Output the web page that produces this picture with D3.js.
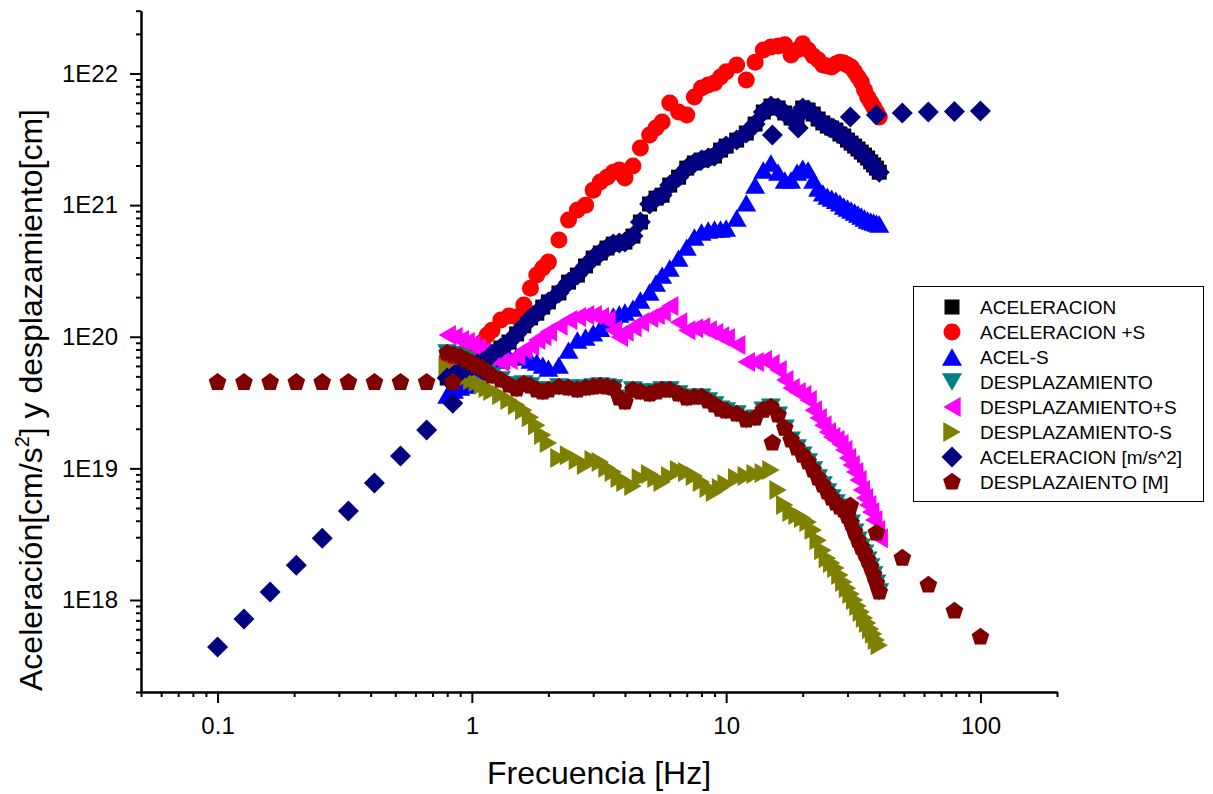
<!DOCTYPE html>
<html>
<head>
    <script src="https://d3js.org/d3.v7.min.js"></script>
    <style>
        body { margin: 0; background: #fff; }
        svg { font-family: "Liberation Sans", Arial, sans-serif; }
        .axis text { font-size: 24px; fill: #000; }
        .axis path, .axis line { stroke: #000; stroke-width: 2px; }
    </style>
</head>
<body>
    <svg width="1213" height="794"></svg>

    <script>
        const width = 1213, height = 794;
        const svg = d3.select("svg");

        // dense spectra (Hz)
        const freqDense = [0.8, 0.85, 0.9, 0.95, 1.0, 1.05, 1.1, 1.15, 1.2, 1.3,
            1.4, 1.5, 1.6, 1.7, 1.8, 1.9, 2.0, 2.2, 2.4, 2.6,
            2.8, 3.0, 3.2, 3.4, 3.6, 3.8, 4.0, 4.3, 4.6, 5.0,
            5.3, 5.6, 6.0, 6.5, 7.0, 7.5, 8.0, 8.5, 9.0, 9.5,
            10, 11, 12, 13, 14, 15, 16, 17, 18, 19,
            20, 21, 22, 23, 24, 25, 26, 27, 28, 29,
            30, 31, 32, 33, 34, 35, 36, 37, 38, 39, 40];

        const aceleracion = [4.86e19, 5.12e19, 5.39e19, 5.78e19, 5.99e19, 6.2e19, 6.42e19, 6.77e19, 7.39e19, 8.21e19,
            9.11e19, 1.05e20, 1.21e20, 1.39e20, 1.51e20, 1.68e20, 1.84e20, 2.15e20, 2.6e20, 2.94e20,
            3.45e20, 3.96e20, 4.33e20, 4.72e20, 5.06e20, 5.15e20, 5.24e20, 5.82e20, 7.44e20, 1.02e21,
            1.13e21, 1.19e21, 1.42e21, 1.63e21, 1.91e21, 2.09e21, 2.2e21, 2.28e21, 2.36e21, 2.62e21,
            2.81e21, 3.12e21, 3.53e21, 4.13e21, 5.1e21, 5.66e21, 5.47e21, 5.01e21, 4.59e21, 4.67e21,
            5.47e21, 5.28e21, 4.92e21, 4.51e21, 4.21e21, 3.99e21, 3.85e21, 3.72e21, 3.47e21, 3.35e21,
            3.12e21, 2.96e21, 2.81e21, 2.67e21, 2.53e21, 2.4e21, 2.28e21, 2.13e21, 2.02e21, 1.91e21, 1.78e21];

        const acelPlusS = [6.9e19, 7.1e19, 7.4e19, 7.6e19, 7.9e19, 8.4e19, 9.1e19, 1.03e20, 1.12e20, 1.34e20,
            1.44e20, 1.41e20, 1.74e20, 2.34e20, 2.94e20, 3.33e20, 3.69e20, 5.43e20, 7.7e20, 9.18e20,
            1.0e21, 1.3e21, 1.5e21, 1.63e21, 1.78e21, 1.85e21, 1.61e21, 1.98e21, 2.72e21, 3.41e21,
            3.85e21, 4.28e21, 5.97e21, 5.1e21, 4.84e21, 6.63e21, 7.76e21, 8.18e21, 8.47e21, 9.41e21,
            1.03e22, 1.16e22, 8.93e21, 1.22e22, 1.51e22, 1.59e22, 1.62e22, 1.65e22, 1.38e22, 1.51e22,
            1.68e22, 1.51e22, 1.36e22, 1.27e22, 1.16e22, 1.14e22, 1.12e22, 1.18e22, 1.22e22, 1.2e22,
            1.16e22, 1.12e22, 1.03e22, 9.41e21, 8.62e21, 7.49e21, 6.63e21, 6.07e21, 5.56e21, 5.1e21, 4.67e21];

        const acelMinusS = [3.61e19, 3.94e19, 4.15e19, 4.3e19, 4.69e19, 4.94e19, 5.39e19, 5.78e19, 6.09e19, 6.65e19,
            7.01e19, 7.13e19, 7.01e19, 6.65e19, 6.42e19, 6.09e19, 5.78e19, 6.09e19, 7.92e19, 9.44e19,
            9.95e19, 1.07e20, 1.16e20, 1.34e20, 1.44e20, 1.49e20, 1.54e20, 1.65e20, 1.9e20, 2.19e20,
            2.56e20, 2.94e20, 3.33e20, 3.96e20, 4.8e20, 5.72e20, 6.25e20, 6.47e20, 6.58e20, 6.58e20,
            6.7e20, 7.98e20, 1.04e21, 1.42e21, 1.85e21, 2.09e21, 1.78e21, 1.55e21, 1.55e21, 1.78e21,
            1.91e21, 1.85e21, 1.55e21, 1.35e21, 1.24e21, 1.17e21, 1.13e21, 1.09e21, 1.04e21, 9.84e20,
            9.5e20, 9.18e20, 8.86e20, 8.56e20, 8.26e20, 7.98e20, 7.7e20, 7.57e20, 7.44e20, 7.31e20, 7.19e20];

        const desplazamiento = [7.52e19, 7.26e19, 7.01e19, 6.65e19, 6.31e19, 5.99e19, 5.78e19, 5.39e19, 5.03e19, 4.69e19,
            4.3e19, 4.01e19, 4.37e19, 4.22e19, 3.94e19, 3.8e19, 3.94e19, 4.15e19, 4.08e19, 3.94e19,
            4.08e19, 4.15e19, 4.22e19, 4.15e19, 4.08e19, 3.42e19, 3.19e19, 3.94e19, 3.8e19, 3.67e19,
            3.8e19, 3.94e19, 3.94e19, 3.67e19, 3.42e19, 3.48e19, 3.48e19, 3.25e19, 3.03e19, 2.82e19,
            2.73e19, 2.59e19, 2.33e19, 2.41e19, 2.77e19, 2.92e19, 2.54e19, 2.02e19, 1.64e19, 1.43e19,
            1.26e19, 1.12e19, 9.71e18, 8.44e18, 7.47e18, 6.61e18, 5.95e18, 5.45e18, 5.08e18, 4.82e18,
            4.34e18, 3.84e18, 3.28e18, 2.85e18, 2.52e18, 2.27e18, 2.01e18, 1.78e18, 1.55e18, 1.34e18, 1.15e18];

        const despPlusS = [1.03e20, 9.95e19, 9.44e19, 9.11e19, 8.65e19, 8.21e19, 7.65e19, 7.13e19, 6.89e19, 6.42e19,
            6.65e19, 7.13e19, 7.92e19, 8.5e19, 9.44e19, 1.01e20, 1.09e20, 1.21e20, 1.34e20, 1.41e20,
            1.46e20, 1.46e20, 1.41e20, 1.34e20, 1.12e20, 9.95e19, 1.09e20, 1.18e20, 1.29e20, 1.39e20,
            1.46e20, 1.54e20, 1.71e20, 1.29e20, 1.12e20, 1.16e20, 1.18e20, 1.12e20, 1.07e20, 1.01e20,
            9.77e19, 8.65e19, 6.42e19, 6.42e19, 6.65e19, 6.2e19, 5.58e19, 4.69e19, 4.08e19, 3.8e19,
            3.61e19, 3.3e19, 2.77e19, 2.41e19, 2.13e19, 1.89e19, 1.73e19, 1.64e19, 1.53e19, 1.38e19,
            1.2e19, 1.06e19, 9.37e18, 8.15e18, 6.84e18, 5.95e18, 5.26e18, 4.66e18, 4.05e18, 3.4e18, 2.95e18];

        const despMinusS = [5.78e19, 5.39e19, 5.12e19, 4.94e19, 4.69e19, 4.53e19, 4.3e19, 4.08e19, 3.87e19, 3.61e19,
            3.3e19, 3.03e19, 2.77e19, 2.45e19, 2.13e19, 1.79e19, 1.56e19, 1.2e19, 1.26e19, 1.16e19,
            1.06e19, 1.16e19, 1.12e19, 1.01e19, 9.37e18, 8.44e18, 7.87e18, 7.34e18, 8.44e18, 9.05e18,
            8.44e18, 7.87e18, 8.74e18, 9.71e18, 9.37e18, 8.74e18, 7.87e18, 7.09e18, 6.61e18, 7.09e18,
            7.6e18, 8.44e18, 8.74e18, 9.05e18, 9.21e18, 9.71e18, 6.84e18, 5.26e18, 4.66e18, 4.42e18,
            4.19e18, 3.91e18, 3.4e18, 2.85e18, 2.39e18, 2.08e18, 1.91e18, 1.75e18, 1.55e18, 1.37e18,
            1.23e18, 1.11e18, 9.98e17, 8.99e17, 8.09e17, 7.29e17, 6.68e17, 6.01e17, 5.51e17, 4.96e17, 4.54e17];

        // sparse points of the [m/s^2] and [M] series
        const freqLow = [0.1, 0.127, 0.161, 0.204, 0.258, 0.327, 0.414, 0.524, 0.664, 0.841];
        const acelMsLow = [4.39e17, 7.16e17, 1.15e18, 1.84e18, 2.95e18, 4.74e18, 7.73e18, 1.24e19, 1.96e19, 3.13e19];
        const despMLow = [4.5e19, 4.5e19, 4.5e19, 4.5e19, 4.5e19, 4.5e19, 4.5e19, 4.5e19, 4.5e19, 4.5e19];

        const freqAcelHigh = [15.2, 19.2, 30.8, 39.0, 49.3, 62.4, 79.0, 100];
        const acelMsHigh = [3.41e21, 3.85e21, 4.67e21, 4.84e21, 5.0e21, 5.1e21, 5.15e21, 5.19e21];
        const freqDespHigh = [15.2, 30.8, 39.0, 49.3, 62.4, 79.0, 100];
        const despMHigh = [1.56e19, 5.2e18, 3.23e18, 2.08e18, 1.3e18, 8.24e17, 5.23e17];

        const xTicks = [0.1, 1, 10, 100];
        const yTicks = [1e18, 1e19, 1e20, 1e21, 1e22];

        const zip = (fs, vs) => fs.map((f, i) => ({ f: f, v: vs[i] }));

        const series = [
            { name: "ACELERACION", color: "#000000", shape: "square", pts: zip(freqDense, aceleracion) },
            { name: "ACELERACION +S", color: "#FF0000", shape: "circle", pts: zip(freqDense, acelPlusS) },
            { name: "ACEL-S", color: "#0000FF", shape: "up", pts: zip(freqDense, acelMinusS) },
            { name: "DESPLAZAMIENTO", color: "#008080", shape: "down", pts: zip(freqDense, desplazamiento) },
            { name: "DESPLAZAMIENTO+S", color: "#FF00FF", shape: "left", pts: zip(freqDense, despPlusS) },
            { name: "DESPLAZAMIENTO-S", color: "#808000", shape: "right", pts: zip(freqDense, despMinusS) },
            { name: "ACELERACION [m/s^2]", color: "#000080", shape: "diamond",
              pts: zip(freqLow, acelMsLow).concat(zip(freqDense, aceleracion), zip(freqAcelHigh, acelMsHigh)) },
            { name: "DESPLAZAIENTO [M]", color: "#800000", shape: "pentagon",
              pts: zip(freqLow, despMLow).concat(zip(freqDense, desplazamiento), zip(freqDespHigh, despMHigh)) }
        ];

        // scales
        const xScale = d3.scaleLog().domain([0.05, 200]).range([141, 1057]);
        const yScale = d3.scaleLog().domain([2e17, 3e22]).range([692, 10.7]);

        // marker shapes (Origin style)
        function poly(p, pts) {
            p.moveTo(pts[0][0], pts[0][1]);
            pts.slice(1).forEach(q => p.lineTo(q[0], q[1]));
            p.closePath();
        }
        function markerPath(shape) {
            const p = d3.path();
            const h = 8.7, w = 10;
            if (shape === "square") p.rect(-7.5, -7.5, 15, 15);
            else if (shape === "circle") p.arc(0, 0, 8.5, 0, 2 * Math.PI);
            else if (shape === "up") poly(p, [[0, -h], [w, h], [-w, h]]);
            else if (shape === "down") poly(p, [[0, h], [w, -h], [-w, -h]]);
            else if (shape === "left") poly(p, [[-h, 0], [h, -w], [h, w]]);
            else if (shape === "right") poly(p, [[h, 0], [-h, -w], [-h, w]]);
            else if (shape === "diamond") poly(p, [[0, -10.5], [10.5, 0], [0, 10.5], [-10.5, 0]]);
            else if (shape === "pentagon") {
                poly(p, d3.range(5).map(i => {
                    const a = -Math.PI / 2 + i * 2 * Math.PI / 5;
                    return [9.3 * Math.cos(a), 9.3 * Math.sin(a)];
                }));
            }
            return p.toString();
        }

        // axes: minor ticks first, then major with labels
        const minorX = [], minorY = [];
        [0.01, 0.1, 1, 10, 100].forEach(d => d3.range(2, 10).forEach(m => {
            const v = d * m;
            if (v >= 0.05 && v <= 200) minorX.push(v);
        }));
        [1e17, 1e18, 1e19, 1e20, 1e21, 1e22].forEach(d => d3.range(2, 10).forEach(m => {
            const v = d * m;
            if (v >= 2e17 * 0.999 && v <= 3e22 * 1.001) minorY.push(v);
        }));

        svg.append("g").attr("class", "axis")
            .attr("transform", "translate(0,692)")
            .call(d3.axisBottom(xScale).tickValues(minorX).tickSize(5).tickSizeOuter(0).tickFormat(""));
        svg.append("g").attr("class", "axis")
            .attr("transform", "translate(0,692)")
            .call(d3.axisBottom(xScale).tickValues(xTicks).tickSize(11).tickSizeOuter(0).tickPadding(14)
                .tickFormat(d => String(d)));

        svg.append("g").attr("class", "axis")
            .attr("transform", "translate(141,0)")
            .call(d3.axisLeft(yScale).tickValues(minorY).tickSize(5).tickSizeOuter(0).tickFormat(""));
        svg.append("g").attr("class", "axis")
            .attr("transform", "translate(141,0)")
            .call(d3.axisLeft(yScale).tickValues(yTicks).tickSize(11).tickSizeOuter(0).tickPadding(12)
                .tickFormat(d => "1E" + Math.round(Math.log10(d))));

        // points
        series.forEach(s => {
            svg.append("g")
                .selectAll("path")
                .data(s.pts)
                .join("path")
                .attr("d", markerPath(s.shape))
                .attr("transform", d => `translate(${xScale(d.f)},${yScale(d.v)})`)
                .attr("fill", s.color);
        });

        // axis titles
        svg.append("text")
            .attr("x", 599).attr("y", 784)
            .attr("text-anchor", "middle")
            .attr("font-size", "32px")
            .text("Frecuencia [Hz]");

        const yTitle = svg.append("text")
            .attr("transform", "translate(42,400) rotate(-90)")
            .attr("text-anchor", "middle")
            .attr("font-size", "32px");
        yTitle.append("tspan").text("Aceleración[cm/s");
        yTitle.append("tspan").attr("font-size", "20px").attr("dy", -13).text("2");
        yTitle.append("tspan").attr("dy", 13).text("] y desplazamiento[cm]");

        // legend
        const legend = svg.append("g");
        legend.append("rect")
            .attr("x", 913.5).attr("y", 286.5)
            .attr("width", 290).attr("height", 215)
            .attr("fill", "#fff").attr("stroke", "#000").attr("stroke-width", 1);

        const rows = legend.selectAll("g.row")
            .data(series)
            .join("g")
            .attr("class", "row")
            .attr("transform", (d, i) => `translate(0,${307 + i * 25})`);
        rows.append("path")
            .attr("d", d => markerPath(d.shape))
            .attr("transform", "translate(952,0)")
            .attr("fill", d => d.color);
        rows.append("text")
            .attr("x", 980).attr("y", 0).attr("dy", "0.35em")
            .attr("font-size", "19px")
            .text(d => d.name);
    </script>
</body>
</html>
